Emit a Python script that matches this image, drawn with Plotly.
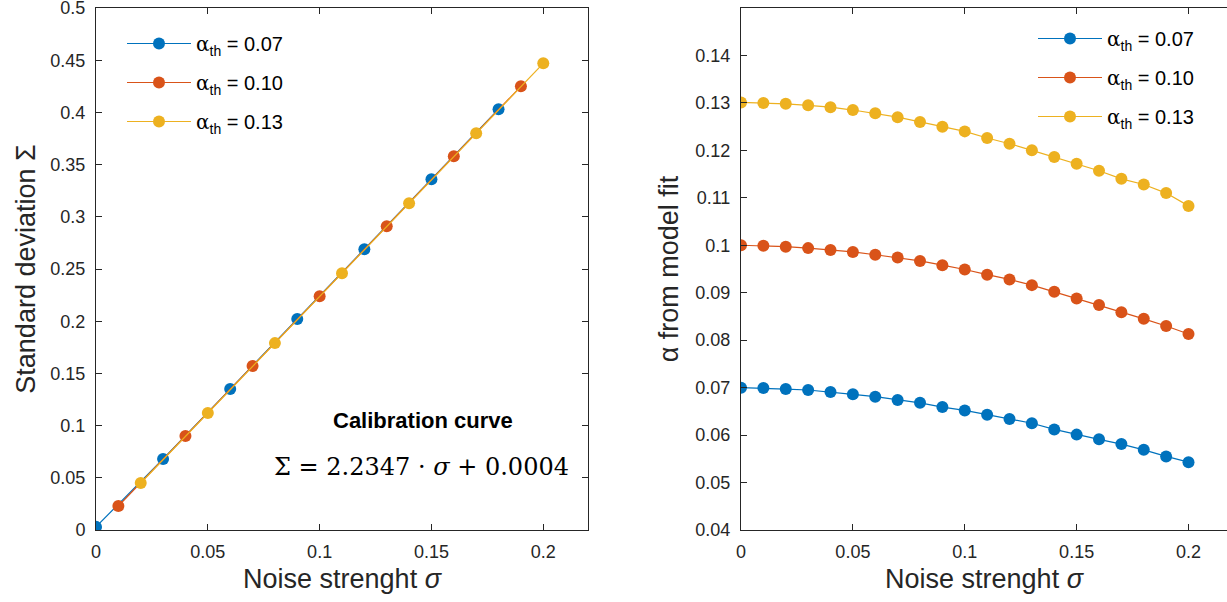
import plotly.graph_objects as go

# ---- data ----
sigma_all = [0.00, 0.01, 0.02, 0.03, 0.04, 0.05, 0.06, 0.07, 0.08, 0.09, 0.10,
             0.11, 0.12, 0.13, 0.14, 0.15, 0.16, 0.17, 0.18, 0.19, 0.20]

# left panel: standard deviation Sigma (markers alternate between series)
sigma_007 = [0.00, 0.03, 0.06, 0.09, 0.12, 0.15, 0.18]
Sigma_007 = [0.003, 0.068, 0.135, 0.202, 0.269, 0.336, 0.403]
sigma_010 = [0.01, 0.04, 0.07, 0.10, 0.13, 0.16, 0.19]
Sigma_010 = [0.023, 0.090, 0.157, 0.224, 0.291, 0.358, 0.425]
sigma_013 = [0.02, 0.05, 0.08, 0.11, 0.14, 0.17, 0.20]
Sigma_013 = [0.045, 0.112, 0.179, 0.246, 0.313, 0.380, 0.447]

# right panel: alpha from model fit
alpha_fit_007 = [0.0700, 0.0699, 0.0697, 0.0695, 0.0691, 0.0686, 0.0681, 0.0674, 0.0668, 0.0659, 0.0652,
                 0.0643, 0.0634, 0.0625, 0.0612, 0.0601, 0.0591, 0.0581, 0.0569, 0.0555, 0.0543]
alpha_fit_010 = [0.1000, 0.0999, 0.0997, 0.0994, 0.0990, 0.0986, 0.0980, 0.0974, 0.0967, 0.0958, 0.0949,
                 0.0938, 0.0928, 0.0916, 0.0902, 0.0888, 0.0874, 0.0859, 0.0845, 0.0830, 0.0813]
alpha_fit_013 = [0.1301, 0.1300, 0.1298, 0.1295, 0.1291, 0.1285, 0.1278, 0.1270, 0.1260, 0.1250, 0.1240,
                 0.1226, 0.1214, 0.1200, 0.1186, 0.1172, 0.1157, 0.1140, 0.1128, 0.1110, 0.1083]

left_yticks = [0, 0.05, 0.1, 0.15, 0.2, 0.25, 0.3, 0.35, 0.4, 0.45, 0.5]
right_yticks = [0.04, 0.05, 0.06, 0.07, 0.08, 0.09, 0.1, 0.11, 0.12, 0.13, 0.14]
xticks = [0, 0.05, 0.1, 0.15, 0.2]

names = ["<span style='font-family:DejaVu Serif'>α</span><sub>th</sub> = 0.07",
         "<span style='font-family:DejaVu Serif'>α</span><sub>th</sub> = 0.10",
         "<span style='font-family:DejaVu Serif'>α</span><sub>th</sub> = 0.13"]
colors = ["#0072BD", "#D95319", "#EDB120"]

W, H = 1227, 602
ML, MR, MT, MB = 96, 0, 8, 72
PW = W - ML - MR
PH = H - MT - MB


def px(x):
    return (x - ML) / PW


def py(y):
    return (H - MB - y) / PH


fig = go.Figure()

left_sets = [(sigma_007, Sigma_007), (sigma_010, Sigma_010), (sigma_013, Sigma_013)]
for i, ((xs, ys), nm, c) in enumerate(zip(left_sets, names, colors)):
    fig.add_trace(go.Scatter(x=xs, y=ys, mode="lines+markers", name=nm,
                             line=dict(color=c, width=1.2),
                             marker=dict(color=c, size=12),
                             legendgroup="L%d" % i,
                             xaxis="x", yaxis="y", legend="legend"))

for i, (ys, nm, c) in enumerate(zip([alpha_fit_007, alpha_fit_010, alpha_fit_013], names, colors)):
    fig.add_trace(go.Scatter(x=sigma_all, y=ys, mode="lines+markers", name=nm,
                             line=dict(color=c, width=1.2),
                             marker=dict(color=c, size=12),
                             legendgroup="R%d" % i,
                             xaxis="x2", yaxis="y2", legend="legend2"))

axcol = "#262626"
tickfont = dict(family="Liberation Sans, Arial", size=18, color=axcol)
titlefont = dict(family="Liberation Sans, Arial", size=27, color=axcol)

common = dict(showline=True, linecolor=axcol, linewidth=1,
              ticks="inside", ticklen=6, tickcolor=axcol, showgrid=False,
              zeroline=False, tickfont=tickfont, automargin=False,
              ticklabeloverflow="allow")

legfont = dict(family="Liberation Sans, Arial", size=20, color="black")

fig.update_layout(
    width=W, height=H,
    margin=dict(l=ML, r=MR, t=MT, b=MB),
    paper_bgcolor="white", plot_bgcolor="white",
    font=dict(family="Liberation Sans, Arial", color=axcol),
    xaxis=dict(domain=[0, px(588)], range=[0, 0.22], tickvals=xticks, anchor="y",
               mirror="allticks", ticklabelstandoff=5,
               title=dict(text="Noise strenght <i>σ</i>", font=titlefont, standoff=8), **common),
    yaxis=dict(domain=[0, 1], range=[-1e-6, 0.500001], tickvals=left_yticks, anchor="x",
               mirror="allticks", ticklabelstandoff=6,
               title=dict(text="Standard deviation Σ", font=titlefont, standoff=6), **common),
    xaxis2=dict(domain=[px(741), 1.0], range=[0, 0.2172], tickvals=xticks, anchor="y2",
                mirror="allticks", ticklabelstandoff=5,
                title=dict(text="Noise strenght <i>σ</i>", font=titlefont, standoff=8), **common),
    yaxis2=dict(domain=[0, 1], range=[0.04, 0.15], tickvals=right_yticks, anchor="x2",
                mirror=False, ticklabelstandoff=6,
                title=dict(text="α from model fit", font=titlefont, standoff=8), **common),
    legend=dict(x=px(122), y=py(24), xanchor="left", yanchor="top", font=legfont,
                bgcolor="rgba(255,255,255,0)", tracegroupgap=10, itemwidth=64),
    legend2=dict(x=px(1033), y=py(19), xanchor="left", yanchor="top", font=legfont,
                 bgcolor="rgba(255,255,255,0)", tracegroupgap=10, itemwidth=64),
    annotations=[
        dict(text="<b>Calibration curve</b>", x=px(423), y=py(420), xref="paper", yref="paper",
             xanchor="center", yanchor="middle", showarrow=False,
             font=dict(family="Liberation Sans, Arial", size=22, color="black")),
        dict(text="Σ = 2.2347 · <i>σ</i> + 0.0004", x=px(421), y=py(467), xref="paper", yref="paper",
             xanchor="center", yanchor="middle", showarrow=False,
             font=dict(family="DejaVu Serif", size=24, color="black")),
    ],
)

fig.write_html("out.html", config={"displayModeBar": False},
               post_script="document.body.style.margin='0';")
